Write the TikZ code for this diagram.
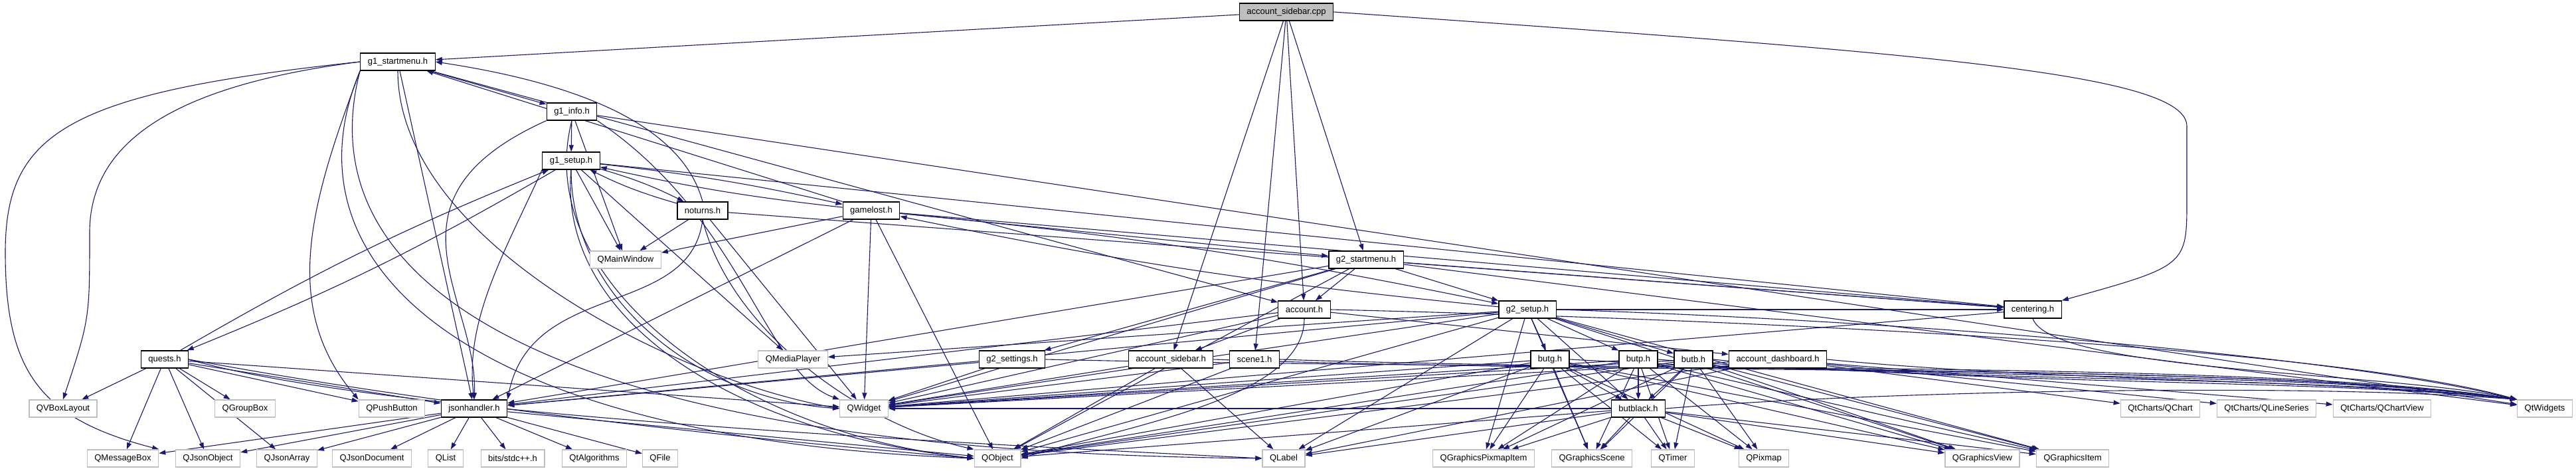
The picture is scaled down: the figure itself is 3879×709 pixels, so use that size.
\documentclass[tikz,border=0pt]{standalone}
\usepackage{fontspec}
\setmainfont{Liberation Sans}
\usetikzlibrary{arrows.meta}
\definecolor{edgeblue}{HTML}{191970}
\definecolor{sysgray}{HTML}{BFBFBF}
\pgfdeclarelayer{bg}
\pgfsetlayers{bg,main}

\begin{document}
\begin{tikzpicture}[x=1pt,y=-1pt,
 base/.style={rectangle,font=\fontsize{13}{15}\selectfont,minimum height=26pt,
              inner xsep=11pt,inner ysep=0pt,line width=1.3pt},
 hdr/.style={base,draw=black,fill=white},
 sys/.style={base,draw=sysgray,fill=white},
 root/.style={base,draw=black,fill=sysgray},
 dep/.style={-{Triangle[length=10pt,width=7pt]},draw=edgeblue,line width=1.1pt}]
\useasboundingbox (0,0) rectangle (3879,709);
% sources
\node[root] (cpp) at (1937,18) {account\_sidebar.cpp};
\node[hdr] (g1s) at (599,93) {g1\_startmenu.h};
\node[hdr] (g1i) at (861,168) {g1\_info.h};
\node[hdr] (g1u) at (860,242) {g1\_setup.h};
\node[hdr] (nort) at (1058,317) {noturns.h};
\node[hdr] (glost) at (1312,317) {gamelost.h};
\node[sys] (qmain) at (942,391) {QMainWindow};
\node[hdr] (g2s) at (2057,391) {g2\_startmenu.h};
\node[hdr] (acc) at (1964,466) {account.h};
\node[hdr] (g2u) at (2300,466) {g2\_setup.h};
\node[hdr] (cen) at (3061,466) {centering.h};
\node[hdr] (quests) at (248,541) {quests.h};
\node[sys] (qmedia) at (1194,541) {QMediaPlayer};
\node[hdr] (g2set) at (1524,541) {g2\_settings.h};
\node[hdr] (acsb) at (1763,541) {account\_sidebar.h};
\node[hdr] (scn) at (1889,541) {scene1.h};
\node[hdr] (butg) at (2334,541) {butg.h};
\node[hdr] (butp) at (2467,541) {butp.h};
\node[hdr] (butb) at (2550,541) {butb.h};
\node[hdr] (adash) at (2677,541) {account\_dashboard.h};
\node[sys] (qvbox) at (95,615) {QVBoxLayout};
\node[sys] (qgrp) at (369,615) {QGroupBox};
\node[sys] (qpush) at (590,615) {QPushButton};
\node[hdr] (json) at (714,615) {jsonhandler.h};
\node[sys] (qwid) at (1301,615) {QWidget};
\node[hdr] (butk) at (2467,615) {butblack.h};
\node[sys] (qchart) at (3253,615) {QtCharts/QChart};
\node[sys] (qlser) at (3413,615) {QtCharts/QLineSeries};
\node[sys] (qcview) at (3587,615) {QtCharts/QChartView};
\node[sys] (qtw) at (3832,615) {QtWidgets};
% bottom row
\node[sys] (qmsg) at (185,690) {QMessageBox};
\node[sys] (qjobj) at (313,690) {QJsonObject};
\node[sys] (qjarr) at (432,690) {QJsonArray};
\node[sys] (qjdoc) at (560,690) {QJsonDocument};
\node[sys] (qlist) at (671,690) {QList};
\node[sys] (qbits) at (772,690) {bits/stdc++.h};
\node[sys] (qalg) at (895,690) {QtAlgorithms};
\node[sys] (qfile) at (994,690) {QFile};
\node[sys] (qobj) at (1502,690) {QObject};
\node[sys] (qlab) at (1933,690) {QLabel};
\node[sys] (qgpi) at (2234,690) {QGraphicsPixmapItem};
\node[sys] (qgsc) at (2397,690) {QGraphicsScene};
\node[sys] (qtim) at (2519,690) {QTimer};
\node[sys] (qpix) at (2656,690) {QPixmap};
\node[sys] (qgv) at (2985,690) {QGraphicsView};
\node[sys] (qgi) at (3121,690) {QGraphicsItem};

\begin{pgfonlayer}{bg}
% account_sidebar.cpp
\draw[dep] (cpp) -- (g1s);
\draw[dep] (cpp) -- (acsb);
\draw[dep] (cpp) -- (scn);
\draw[dep] (cpp) -- (acc);
\draw[dep] (cpp) -- (g2s);
\draw[dep] (cpp.east) .. controls (2900,80) and (3293,110) .. (3293,190) -- (3293,300) .. controls (3293,400) .. (cen.north east);
% g1_startmenu.h
\draw[dep] (g1s) -- (g1i);
\draw[dep] (g1s) -- (acc);
\draw[dep] (g1s.west) .. controls (100,140) and (8,200) .. (8,380) .. controls (8,560) and (60,630) .. (qmsg.north east);
\draw[dep] (g1s.west) .. controls (250,130) and (135,220) .. (135,350) .. controls (135,480) .. (qvbox.north);
\draw[dep] (g1s.south west) .. controls (470,300) and (420,460) .. (qpush.north west);
\draw[dep] (g1s) -- (json);
\draw[dep] (g1s.south) .. controls (599,360) and (1010,570) .. (qwid.west);
\draw[dep] (g1s.south west) .. controls (420,400) and (700,660) .. (qobj.west);
\draw[dep] (g1s.south west) .. controls (460,420) and (800,680) .. (qlab.west);
% g1_info.h
\draw[dep] (g1i) -- (g1u);
\draw[dep] (g1i.south west) .. controls (560,300) and (720,450) .. (json.north);
\draw[dep] (g1i) -- (qmain);
\draw[dep] (g1i.south east) .. controls (1120,330) and (1150,560) .. (qwid.north west);
\draw[dep] (g1i.south) .. controls (800,420) and (1100,650) .. (qobj.west);
\draw[dep] (g1i) -- (qtw);
% g1_setup.h
\draw[dep] (g1u) to[bend left=5] (nort);
\draw[dep] (g1u) to[bend left=3] (glost);
\draw[dep] (g1u) to[bend left=4] (quests);
\draw[dep] (g1u) -- (qmain);
\draw[dep] (g1u.south west) .. controls (760,380) and (700,480) .. (json.north);
\draw[dep] (g1u) -- (qmedia);
\draw[dep] (g1u.south) .. controls (860,450) and (1050,600) .. (qwid.west);
\draw[dep] (g1u.south) .. controls (840,480) and (1100,650) .. (qobj.west);
\draw[dep] (g1u) -- (cen);
% noturns.h
\draw[dep] (nort.north) .. controls (1030,200) and (900,130) .. (g1s.east);
\draw[dep] (nort) to[bend left=5] (g1u);
\draw[dep] (nort) -- (qmain);
\draw[dep] (nort.south) .. controls (1040,480) and (800,420) .. (json.north east);
\draw[dep] (nort) -- (qwid);
\draw[dep] (nort.south) .. controls (1100,500) and (1300,640) .. (qobj.north west);
\draw[dep] (nort) -- (cen);
% gamelost.h
\draw[dep] (glost) -- (g1s);
\draw[dep] (glost) to[bend left=3] (g1u);
\draw[dep] (glost) -- (g2s);
\draw[dep] (glost) to[bend left=3] (g2u);
\draw[dep] (glost) -- (qmain);
\draw[dep] (glost) -- (json);
\draw[dep] (glost) -- (qwid);
\draw[dep] (glost) -- (qobj);
\draw[dep] (glost) -- (cen);
% g2_startmenu.h
\draw[dep] (g2s) -- (acc);
\draw[dep] (g2s) -- (g2u);
\draw[dep] (g2s) -- (g2set);
\draw[dep] (g2s) -- (json);
\draw[dep] (g2s) -- (qwid);
\draw[dep] (g2s) -- (qobj);
\draw[dep] (g2s) -- (cen);
\draw[dep] (g2s) -- (qtw);
% account.h
\draw[dep] (acc) -- (acsb);
\draw[dep] (acc) -- (adash);
\draw[dep] (acc) -- (json);
\draw[dep] (acc) -- (qwid);
\draw[dep] (acc.south) .. controls (1964,600) and (1700,640) .. (qobj.east);
\draw[dep] (acc.east) .. controls (2600,480) and (3500,520) .. (qtw.north west);
% g2_setup.h
\draw[dep] (g2u) to[bend left=3] (glost);
\draw[dep] (g2u) -- (butg);
\draw[dep] (g2u) -- (butp);
\draw[dep] (g2u) -- (butb);
\draw[dep] (g2u) -- (butk);
\draw[dep] (g2u) -- (qgpi);
\draw[dep] (g2u) -- (qgsc);
\draw[dep] (g2u) -- (qlab);
\draw[dep] (g2u) -- (qobj);
\draw[dep] (g2u) -- (qwid);
\draw[dep] (g2u) -- (json);
\draw[dep] (g2u) -- (qmedia);
\draw[dep] (g2u) -- (cen);
\draw[dep] (g2u.east) .. controls (2800,480) and (3500,530) .. (qtw.north west);
\draw[dep] (g2u) -- (qgv);
\draw[dep] (g2u) -- (qgi);
% second row headers
\draw[dep] (g2set) -- (json);
\draw[dep] (g2set) -- (qwid);
\draw[dep] (g2set.east) .. controls (2400,560) and (3400,540) .. (qtw.north west);
\draw[dep] (acsb) -- (qwid);
\draw[dep] (acsb) -- (qobj);
\draw[dep] (acsb) -- (qlab);
\draw[dep] (acsb.east) .. controls (2500,565) and (3400,545) .. (qtw.north west);
\draw[dep] (scn) -- (qwid);
\draw[dep] (scn) -- (qobj);
\draw[dep] (scn.east) .. controls (2500,560) and (3450,550) .. (qtw.north west);
% butg.h
\draw[dep] (butg) -- (butk);
\draw[dep] (butg) -- (qgpi);
\draw[dep] (butg) -- (qgsc);
\draw[dep] (butg) -- (qtim);
\draw[dep] (butg) -- (qpix);
\draw[dep] (butg) -- (qobj);
\draw[dep] (butg) -- (qlab);
\draw[dep] (butg) -- (qwid);
\draw[dep] (butg) -- (qgv);
\draw[dep] (butg) -- (qgi);
\draw[dep] (butg.east) .. controls (2900,570) and (3500,560) .. (qtw.north west);
% butp.h
\draw[dep] (butp) -- (butk);
\draw[dep] (butp) -- (qgpi);
\draw[dep] (butp) -- (qgsc);
\draw[dep] (butp) -- (qtim);
\draw[dep] (butp) -- (qpix);
\draw[dep] (butp) -- (qobj);
\draw[dep] (butp) -- (qwid);
\draw[dep] (butp) -- (qgv);
\draw[dep] (butp) -- (qgi);
\draw[dep] (butp.east) .. controls (2900,575) and (3500,565) .. (qtw.north west);
% butb.h
\draw[dep] (butb) -- (butk);
\draw[dep] (butb) -- (qgpi);
\draw[dep] (butb) -- (qgsc);
\draw[dep] (butb) -- (qtim);
\draw[dep] (butb) -- (qpix);
\draw[dep] (butb) -- (qobj);
\draw[dep] (butb) -- (qwid);
\draw[dep] (butb) -- (qgv);
\draw[dep] (butb) -- (qgi);
\draw[dep] (butb.east) .. controls (2950,580) and (3500,570) .. (qtw.north west);
% butblack.h
\draw[dep] (butk) -- (qgpi);
\draw[dep] (butk) -- (qgsc);
\draw[dep] (butk) -- (qtim);
\draw[dep] (butk) -- (qpix);
\draw[dep] (butk) -- (qobj);
\draw[dep] (butk) -- (qlab);
\draw[dep] (butk) -- (qgv);
\draw[dep] (butk) -- (qgi);
\draw[dep] (butk.east) .. controls (2800,590) and (3450,575) .. (qtw.north west);
\draw[dep] (butk) -- (qwid);
% account_dashboard.h
\draw[dep] (adash) -- (qchart);
\draw[dep] (adash) -- (qlser);
\draw[dep] (adash) -- (qcview);
\draw[dep] (adash.east) .. controls (3100,575) and (3500,570) .. (qtw.north west);
\draw[dep] (adash) -- (qwid);
\draw[dep] (adash) -- (qobj);
\draw[dep] (adash) -- (qlab);
% quests.h
\draw[dep] (quests) to[bend left=4] (g1u);
\draw[dep] (quests) -- (qvbox);
\draw[dep] (quests) -- (qmsg);
\draw[dep] (quests) -- (qjobj);
\draw[dep] (quests) -- (qjarr);
\draw[dep] (quests) -- (qgrp);
\draw[dep] (quests) -- (qpush);
\draw[dep] (quests) -- (json);
\draw[dep] (quests) -- (qwid);
\draw[dep] (quests.east) .. controls (600,600) and (1000,650) .. (qobj.west);
\draw[dep] (quests.east) .. controls (560,620) and (1300,660) .. (qlab.west);
% jsonhandler.h
\draw[dep] (json) -- (qmsg);
\draw[dep] (json) -- (qjobj);
\draw[dep] (json) -- (qjarr);
\draw[dep] (json) -- (qjdoc);
\draw[dep] (json) -- (qlist);
\draw[dep] (json) -- (qbits);
\draw[dep] (json) -- (qalg);
\draw[dep] (json) -- (qfile);
\draw[dep] (json) -- (qobj);
% centering.h
\draw[dep] (cen) -- (qwid);
\draw[dep] (cen.south) .. controls (3090,560) and (3600,560) .. (qtw.north west);
\end{pgfonlayer}
\end{tikzpicture}
\end{document}
